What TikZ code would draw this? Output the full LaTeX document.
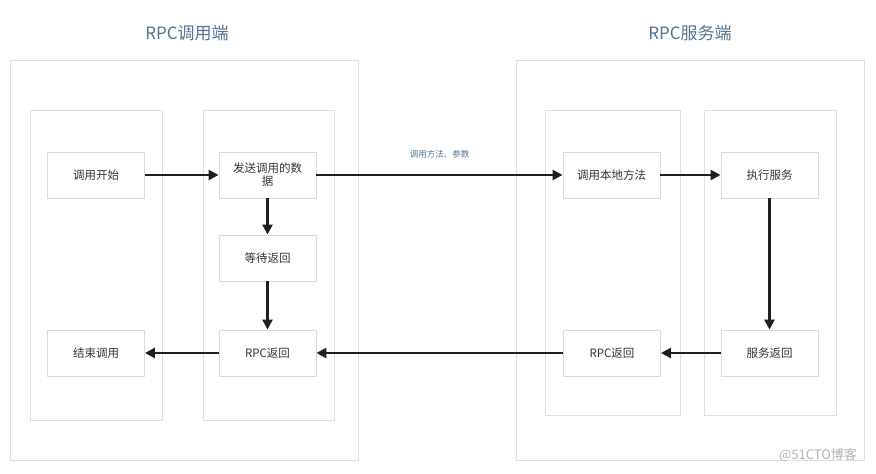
\documentclass[tikz,border=0pt]{standalone}
\usepackage{fontspec}
\setmainfont{Noto Sans CJK SC}
\usetikzlibrary{arrows.meta}
\definecolor{laneline}{HTML}{D5E2EC}
\definecolor{nodeline}{HTML}{D3DCE3}
\definecolor{titleblue}{HTML}{4F7396}
\definecolor{txt}{HTML}{333333}

\begin{document}
\begin{tikzpicture}[x=1pt,y=-1pt,
		lane/.style={draw=laneline,line width=0.9pt},
		box/.style={draw=nodeline,line width=0.9pt,minimum width=97pt,minimum height=46pt,align=center,inner sep=0pt,text=txt,font=\fontsize{11.5}{13}\selectfont},
		flow/.style={-{Triangle[width=10pt,length=10pt]},line width=2.6pt,black!88},
		title/.style={text=titleblue,font=\fontsize{17}{19}\selectfont}]
		\useasboundingbox (0,0) rectangle (876,474);
		% frames
		\draw[lane] (10,60) rectangle (358,460);
		\draw[lane] (30,110) rectangle (162,420);
		\draw[lane] (203,110) rectangle (334,420);
		\draw[lane] (516,60) rectangle (864,460);
		\draw[lane] (545,110) rectangle (680,415);
		\draw[lane] (704,110) rectangle (836,415);
		\node[title] (client) at (187,33) {RPC调用端};
		\node[title] (server) at (690,33) {RPC服务端};
		% caller side
		\node[box] (start) at (96,175) {调用开始};
		\node[box] (send) at (267.5,175) {发送调用的数\\据};
		\node[box] (wait) at (267.5,258) {等待返回};
		\node[box] (retL) at (267.5,353) {RPC返回};
		\node[box] (finish) at (96,353) {结束调用};
		% service side
		\node[box] (local) at (611.5,175) {调用本地方法};
		\node[box] (exec) at (769.5,175) {执行服务};
		\node[box] (sret) at (769.5,353) {服务返回};
		\node[box] (retR) at (612,353) {RPC返回};
		\draw[flow] (start) -- (send);
		\draw[flow] (send) -- (wait);
		\draw[flow] (wait) -- (retL);
		\draw[flow] (send) -- node[above=12pt,text=titleblue,font=\fontsize{8.5}{10}\selectfont] (args) {调用方法、参数} (local);
		\draw[flow] (local) -- (exec);
		\draw[flow] (exec) -- (sret);
		\draw[flow] (sret) -- (retR);
		\draw[flow] (retR) -- (retL);
		\draw[flow] (retL) -- (finish);
		\node[text=black!30,font=\fontsize{13}{15}\selectfont] (mark) at (818,455) {@51CTO博客};
	\end{tikzpicture}
\end{document}
